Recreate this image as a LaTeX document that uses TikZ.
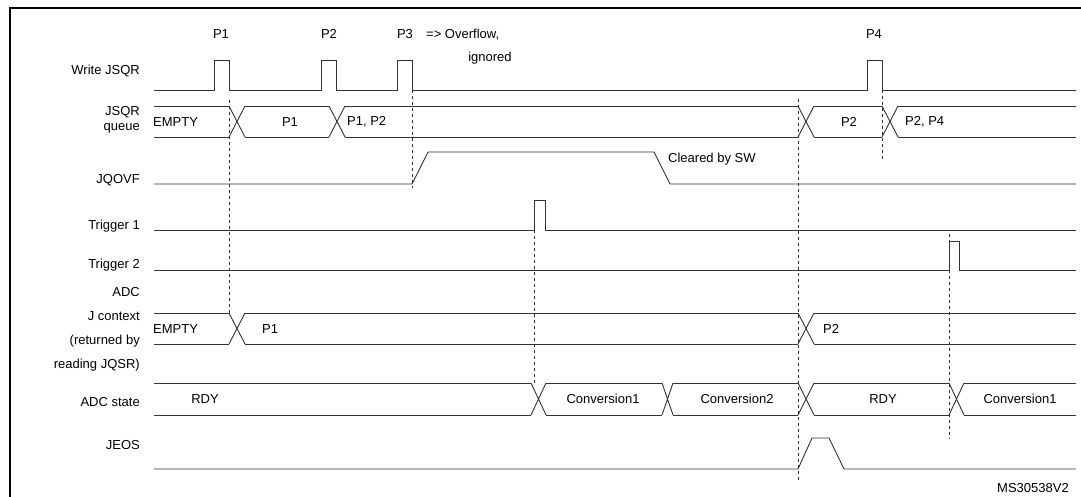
\documentclass[tikz,border=0pt]{standalone}
\usepackage{fontspec}
\setmainfont{Liberation Sans}
\usetikzlibrary{positioning}
% bus segments and crossings
\newcommand{\busseg}[4]{\draw[sig] (#1,#3) -- (#2,#3) (#1,#4) -- (#2,#4);}
\newcommand{\busx}[4]{\draw[sig] (#1,#3) -- (#2,#4) (#1,#4) -- (#2,#3);}

\begin{document}
\begin{tikzpicture}[x=1pt, y=-1pt,
    sig/.style={draw=black!80, line width=0.9pt},
    guide/.style={dashed, black!80, line width=0.6pt},
    signame/.style={font=\fontsize{13}{15}\selectfont, align=right, anchor=east, inner sep=0pt},
    txt/.style={font=\fontsize{13}{15}\selectfont, inner sep=0pt}
]
\useasboundingbox (0,0) rectangle (1081,497);
\draw[line width=1.8pt] (10,520) |- (1100,8);

% Signal names
\node[signame] (nwrite) at (140,71) {Write JSQR};
\node[signame] (nqueue) at (140,120) {JSQR\\queue};
\node[signame] (novf) at (140,180) {JQOVF};
\node[signame] (ntrig1) at (140,226) {Trigger 1};
\node[signame] (ntrig2) at (140,265) {Trigger 2};
\node[signame, font=\fontsize{13}{24}\selectfont] (nctx) at (140,329) {ADC\\J context\\(returned by\\reading JQSR)};
\node[signame] (nstate) at (140,402) {ADC state};
\node[signame] (njeos) at (140,445) {JEOS};

% Write JSQR
\draw[sig] (154,90) -- (214,90) |- (229,60) |- (321,90) |- (336,60) |- (397,90) |- (412,60) |- (867,90) |- (882,60) |- (1076,90);
\node[txt] (p1) at (221,34) {P1};
\node[txt] (p2) at (329,34) {P2};
\node[txt] (p3) at (405,34) {P3};
\node[txt, anchor=west] (ovf) at (426,35) {=> Overflow,};
\node[txt] (ign) at (490,58) {ignored};
\node[txt] (p4) at (874,34) {P4};

% JSQR queue
\foreach \a/\b in {154/229, 245/329, 345/798, 814/882, 898/1076} {\busseg{\a}{\b}{106}{137}}
\foreach \a/\b in {229/245, 329/345, 798/814, 882/898} {\busx{\a}{\b}{106}{137}}
\node[txt, anchor=west] (qempty) at (153,122) {EMPTY};
\node[txt] (qp1) at (290,122) {P1};
\node[txt, anchor=west] (qp12) at (347,122) {P1, P2};
\node[txt] (qp2) at (849,122) {P2};
\node[txt, anchor=west] (qp24) at (905,122) {P2, P4};

% JQOVF
\draw[sig] (154,184) -- (412,184) -- (428,152) -- (654,152) -- (670,184) -- (1076,184);
\node[txt, anchor=west] (clr) at (668,159) {Cleared by SW};

% Triggers
\draw[sig] (154,230) -- (534,230) |- (545,200) |- (1076,230);
\draw[sig] (154,270) -- (949,270) |- (959,241) |- (1076,270);

% ADC J context
\foreach \a/\b in {154/229, 245/798, 814/1076} {\busseg{\a}{\b}{313}{344}}
\foreach \a/\b in {229/245, 798/814} {\busx{\a}{\b}{313}{344}}
\node[txt, anchor=west] (cempty) at (153,329) {EMPTY};
\node[txt, anchor=west] (cp1) at (262,329) {P1};
\node[txt, anchor=west] (cp2) at (823,329) {P2};

% ADC state
\foreach \a/\b in {154/531, 546/662, 673/798, 814/949, 964/1076} {\busseg{\a}{\b}{383}{415}}
\foreach \a/\b in {531/546, 662/673, 798/814, 949/964} {\busx{\a}{\b}{383}{415}}
\node[txt] (srdy) at (205,399) {RDY};
\node[txt] (sconv1) at (603,399) {Conversion1};
\node[txt] (sconv2) at (737,399) {Conversion2};
\node[txt] (srdyb) at (883,399) {RDY};
\node[txt] (sconv1b) at (1020,399) {Conversion1};

% JEOS
\draw[sig] (154,469) -- (798,469) -- (812,438) -- (829,438) -- (844,469) -- (1076,469);

% Guides
\draw[guide] (229,100) -- (229,313);
\draw[guide] (412,90) -- (412,188);
\draw[guide] (534,200) -- (534,383);
\draw[guide] (798,99) -- (798,482);
\draw[guide] (882,90) -- (882,160);
\draw[guide] (949,234) -- (949,439);

\node[txt, anchor=west] (ref) at (997,488) {MS30538V2};
\end{tikzpicture}
\end{document}
